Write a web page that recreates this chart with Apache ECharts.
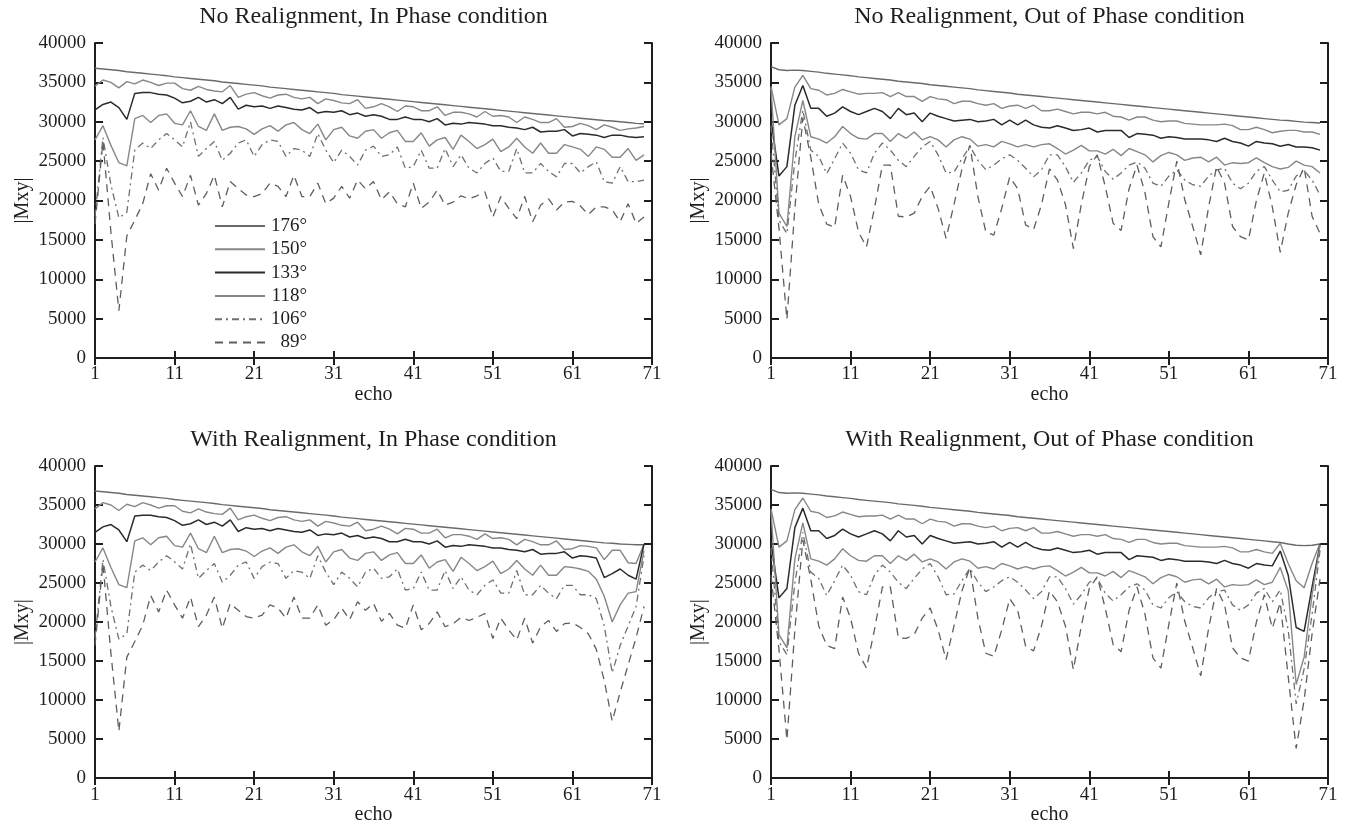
<!DOCTYPE html>
<html>
<head>
<meta charset="utf-8">
<script src="https://cdn.jsdelivr.net/npm/echarts@6/dist/echarts.min.js"></script>
<style>
html, body { margin: 0; padding: 0; background: #fff; }
#container { width: 1353px; height: 826px; }
</style>
</head>
<body>
<div id="container"></div>
<script>
/* |Mxy| per echo, four panels, six flip angles each */
const echoes = Array.from({ length: 70 }, (_, i) => i + 1);
const angleNames = ['176°', '150°', '133°', '118°', '106°', '89°'];
const xTicks = [1, 11, 21, 31, 41, 51, 61, 71];
const yTicks = [0, 5000, 10000, 15000, 20000, 25000, 30000, 35000, 40000];

// No Realignment, In Phase
const tl176 = [36800,36700,36600,36500,36350,36250,36150,36050,35950,35850,
  35700,35600,35500,35400,35300,35200,35050,34950,34850,34750,
  34650,34550,34400,34300,34200,34100,34000,33900,33800,33700,
  33600,33450,33350,33250,33150,33050,32950,32850,32750,32650,
  32550,32450,32350,32250,32150,32050,31950,31850,31750,31650,
  31550,31450,31350,31250,31150,31050,30950,30850,30750,30650,
  30550,30450,30350,30250,30150,30100,30000,29900,29800,29750];
const tl150 = [34500,35300,35000,34300,35100,34800,35300,35000,34600,34900,
  34900,34200,34000,34500,34100,33900,33800,34600,33100,33500,
  33700,33300,33000,33400,33500,33100,32900,33100,32300,32900,
  32700,32400,32300,32800,31700,31900,32300,31900,31300,32000,
  31900,31400,31400,31900,30800,31200,31200,31000,30600,31300,
  30700,30800,30600,29900,30600,30300,29900,29900,30400,29300,
  29400,29800,29500,29000,29600,29300,28900,29100,29200,29400];
const tl133 = [31500,32200,32500,31800,30300,33600,33700,33700,33500,33400,
  33000,32400,32600,33100,32500,32800,32300,33100,31600,32100,
  31900,32000,31700,32000,31800,31600,31500,31800,31100,31300,
  31200,31400,30900,31100,30700,30900,30700,30300,30300,30600,
  30300,30300,30000,30400,29600,29800,29700,29900,29800,29700,
  29500,29500,29300,29200,29000,29300,28700,28800,28800,29000,
  28200,28500,28400,28300,28000,28300,28300,28100,28000,28100];
const tl118 = [27700,29500,27000,24800,24400,30400,30800,29900,30800,31000,
  29800,29600,31400,29400,28900,31000,28900,29300,29400,29100,
  28400,29100,29500,28800,29600,29900,29000,28500,29700,27700,
  29000,29300,28200,27900,28800,29000,27900,28600,28900,27500,
  27500,28600,26900,27700,28000,26500,28300,27500,26600,27100,
  27800,26200,26800,27900,26800,26000,27300,26000,26000,27100,
  26800,26500,25600,26800,26500,25500,25500,26600,25100,25800];
const tl106 = [18000,28000,22000,17800,18500,26400,27300,26600,27700,28500,
  27700,26800,30000,25600,26600,27500,25100,26000,27300,27700,
  25600,27100,27700,27500,25600,26600,26400,25600,28500,26400,
  24800,26400,25600,24500,26400,26900,25600,25800,26800,24100,
  24300,26400,24100,24100,26600,24300,25800,24100,23500,24700,
  25400,23700,23700,26600,23500,23500,24700,23700,23000,24700,
  24700,23500,24300,24900,22400,22200,24300,22400,22400,22600];
const tl89 = [17000,27500,16000,6000,15500,17500,19600,23400,21300,24100,
  22200,20500,23200,19400,20900,23200,19200,22400,21500,20700,
  20500,20900,22200,21800,20500,23200,20500,20500,22200,19600,
  20300,21800,20300,22600,21500,22400,20100,21100,19600,19200,
  22200,19000,19800,21300,19400,19800,20600,20200,20600,21100,
  17900,20500,19000,17700,20500,17300,19400,20200,18800,19800,
  19900,19300,18200,19200,19200,18800,17300,19600,17100,17900];

// No Realignment, Out of Phase
const tr176 = [37000,36600,36500,36550,36500,36400,36300,36150,36050,35950,
  35850,35700,35600,35500,35400,35300,35150,35050,34950,34850,
  34700,34600,34500,34400,34300,34200,34050,33950,33850,33750,
  33650,33500,33400,33300,33200,33100,33000,32900,32800,32700,
  32600,32500,32400,32300,32200,32100,32000,31900,31800,31700,
  31600,31500,31400,31300,31200,31100,31000,30900,30800,30700,
  30600,30500,30400,30300,30200,30150,30050,29950,29900,29850];
const tr150 = [34500,29600,30400,34400,35900,34200,34000,33400,33600,34100,
  33800,33500,33600,33600,33700,33200,33700,33200,33200,32600,
  33200,32900,32800,32300,32600,32600,32300,32100,32300,31700,
  32000,32100,31700,32100,31400,31400,31600,31300,31000,31200,
  31200,31000,31200,30700,30600,30200,30600,30600,30200,30000,
  30100,30100,29800,29700,29600,29600,29600,29700,29500,29000,
  29000,29300,29000,28600,28800,28900,28900,28700,28700,28400];
const tr133 = [30300,23100,24300,32100,34600,31700,31700,30700,31100,31900,
  31300,30900,31300,31700,31300,30400,31700,30900,31100,30000,
  31100,30700,30400,30100,30200,30300,30000,30100,30300,29600,
  30200,29600,30200,29600,29300,29200,29500,29200,28900,29000,
  29200,28700,28900,28900,28900,28000,28500,28400,28300,27900,
  28100,28000,27800,27800,27800,27700,27500,27900,27500,27300,
  26900,27500,27300,27200,26900,27100,26800,26800,26700,26400];
const tr118 = [34300,18400,16700,28100,32700,28100,27800,27300,28100,29400,
  28500,27900,27800,28500,28500,27500,28500,27900,28700,27700,
  28100,27700,26800,27700,28100,27800,26900,27100,26800,27500,
  27200,26800,27100,26800,27100,27200,26600,25900,26400,27000,
  26300,26300,25900,26500,25700,26600,26200,25800,24900,25700,
  26100,25800,25100,25400,25500,24900,25500,24500,24800,24700,
  24800,25400,24800,24300,24000,24200,25000,24500,24300,23500];
const tr106 = [29500,17500,15800,25000,31500,26400,25600,23400,25300,27300,
  26000,23900,23500,26000,27300,26400,25100,24300,25600,26800,
  27500,25800,23500,23600,25300,26900,25100,23900,24500,25300,
  25800,25100,24100,23000,23900,25800,25800,24300,22300,23500,
  25100,25600,23700,22700,23500,24500,24900,24100,22200,21800,
  23100,23900,22600,22000,21800,23100,23900,24100,22200,21500,
  22200,23700,24300,22600,21100,21300,23100,23800,22600,20700];
const tr89 = [26000,16500,4900,19000,30500,25500,19500,17000,16600,23200,
  20500,16000,14100,19000,24500,24500,18000,17900,18400,20500,
  21800,19000,15200,19500,24000,27000,20500,16000,15600,19000,
  23000,21500,16900,16300,19500,24000,22600,19500,13900,19500,
  24300,25800,21800,17100,16200,21500,24500,21000,15400,14100,
  19700,25000,20100,16700,13100,19200,24300,22200,16700,15400,
  15000,20000,23500,19200,13400,18400,22000,24200,18000,15800];

// With Realignment, In Phase
const bl176 = [36800,36700,36600,36500,36350,36250,36150,36050,35950,35850,
  35700,35600,35500,35400,35300,35200,35050,34950,34850,34750,
  34650,34550,34400,34300,34200,34100,34000,33900,33800,33700,
  33600,33450,33350,33250,33150,33050,32950,32850,32750,32650,
  32550,32450,32350,32250,32150,32050,31950,31850,31750,31650,
  31550,31450,31350,31250,31150,31050,30950,30850,30750,30650,
  30550,30450,30350,30250,30150,30100,30000,29950,29900,29900];
const bl150 = [34500,35300,35000,34300,35100,34800,35300,35000,34600,34900,
  34900,34200,34000,34500,34100,33900,33800,34600,33100,33500,
  33700,33300,33000,33400,33500,33100,32900,33100,32300,32900,
  32700,32400,32300,32800,31700,31900,32300,31900,31300,32000,
  31900,31400,31400,31900,30800,31200,31200,31000,30600,31300,
  30700,30800,30600,29900,30600,30300,29900,29900,30400,29300,
  29400,29800,29700,29500,28000,29200,29200,27600,27500,30000];
const bl133 = [31500,32200,32500,31800,30300,33600,33700,33700,33500,33400,
  33000,32400,32600,33100,32500,32800,32300,33100,31600,32100,
  31900,32000,31700,32000,31800,31600,31500,31800,31100,31300,
  31200,31400,30900,31100,30700,30900,30700,30300,30300,30600,
  30300,30300,30000,30400,29600,29800,29700,29900,29800,29700,
  29500,29500,29300,29200,29000,29300,28700,28800,28800,29000,
  28200,28500,28400,28200,25700,26200,26800,26000,25500,30000];
const bl118 = [27700,29500,27000,24800,24400,30400,30800,29900,30800,31000,
  29800,29600,31400,29400,28900,31000,28900,29300,29400,29100,
  28400,29100,29500,28800,29600,29900,29000,28500,29700,27700,
  29000,29300,28200,27900,28800,29000,27900,28600,28900,27500,
  27500,28600,26900,27700,28000,26500,28300,27500,26600,27100,
  27800,26200,26800,27900,26800,26000,27300,26000,26000,27100,
  27000,26800,26500,25500,23300,20000,22200,23700,23900,29200];
const bl106 = [18000,28000,22000,17800,18500,26400,27300,26600,27700,28500,
  27700,26800,30000,25600,26600,27500,25100,26000,27300,27700,
  25600,27100,27700,27500,25600,26600,26400,25600,28500,26400,
  24800,26400,25600,24500,26400,26900,25600,25800,26800,24100,
  24300,26400,24100,24100,26600,24300,25800,24100,23500,24700,
  25400,23700,23700,26600,23500,23500,24700,23700,23000,24700,
  24700,23500,23500,23000,19500,13500,17000,19500,22000,28500];
const bl89 = [17000,27500,16000,6000,15500,17500,19600,23400,21300,24100,
  22200,20500,23200,19400,20900,23200,19200,22400,21500,20700,
  20500,20900,22200,21800,20500,23200,20500,20500,22200,19600,
  20300,21800,20300,22600,21500,22400,20100,21100,19600,19200,
  22200,19000,19800,21300,19400,19800,20600,20200,20600,21100,
  17900,20500,19000,17700,20500,17300,19400,20200,18800,19800,
  19900,19300,18500,16500,12500,7300,11000,14500,18000,22000];

// With Realignment, Out of Phase
const br176 = [37000,36600,36500,36550,36500,36400,36300,36150,36050,35950,
  35850,35700,35600,35500,35400,35300,35150,35050,34950,34850,
  34700,34600,34500,34400,34300,34200,34050,33950,33850,33750,
  33650,33500,33400,33300,33200,33100,33000,32900,32800,32700,
  32600,32500,32400,32300,32200,32100,32000,31900,31800,31700,
  31600,31500,31400,31300,31200,31100,31000,30900,30800,30700,
  30600,30500,30400,30300,30200,30000,29850,29800,29850,30000];
const br150 = [34500,29600,30400,34400,35900,34200,34000,33400,33600,34100,
  33800,33500,33600,33600,33700,33200,33700,33200,33200,32600,
  33200,32900,32800,32300,32600,32600,32300,32100,32300,31700,
  32000,32100,31700,32100,31400,31400,31600,31300,31000,31200,
  31200,31000,31200,30700,30600,30200,30600,30600,30200,30000,
  30100,30100,29800,29700,29600,29600,29600,29700,29500,29000,
  29000,29300,29000,28800,30100,27500,25300,24400,27500,30100];
const br133 = [30300,23100,24300,32100,34600,31700,31700,30700,31100,31900,
  31300,30900,31300,31700,31300,30400,31700,30900,31100,30000,
  31100,30700,30400,30100,30200,30300,30000,30100,30300,29600,
  30200,29600,30200,29600,29300,29200,29500,29200,28900,29000,
  29200,28700,28900,28900,28900,28000,28500,28400,28300,27900,
  28100,28000,27800,27800,27800,27700,27500,27900,27500,27300,
  26900,27500,27300,27200,29100,26000,19300,18800,24500,30000];
const br118 = [34300,18400,16700,28100,32700,28100,27800,27300,28100,29400,
  28500,27900,27800,28500,28500,27500,28500,27900,28700,27700,
  28100,27700,26800,27700,28100,27800,26900,27100,26800,27500,
  27200,26800,27100,26800,27100,27200,26600,25900,26400,27000,
  26300,26300,25900,26500,25700,26600,26200,25800,24900,25700,
  26100,25800,25100,25400,25500,24900,25500,24500,24800,24700,
  24800,25400,24800,25100,27000,24000,12000,15500,23500,29900];
const br106 = [29500,17500,15800,25000,31500,26400,25600,23400,25300,27300,
  26000,23900,23500,26000,27300,26400,25100,24300,25600,26800,
  27500,25800,23500,23600,25300,26900,25100,23900,24500,25300,
  25800,25100,24100,23000,23900,25800,25800,24300,22300,23500,
  25100,25600,23700,22700,23500,24500,24900,24100,22200,21800,
  23100,23900,22600,22000,21800,23100,23900,24100,22200,21500,
  22200,23700,24300,22600,24100,19000,9500,14000,21000,29200];
const br89 = [26000,16500,4900,19000,30500,25500,19500,17000,16600,23200,
  20500,16000,14100,19000,24500,24500,18000,17900,18400,20500,
  21800,19000,15200,19500,24000,27000,20500,16000,15600,19000,
  23000,21500,16900,16300,19500,24000,22600,19500,13900,19500,
  24300,25800,21800,17100,16200,21500,24500,21000,15400,14100,
  19700,25000,20100,16700,13100,19200,24300,22200,16700,15400,
  15000,20000,23500,19200,22500,13000,3800,10000,18500,25500];

const FONT = 'Liberation Serif';
const INK = '#1e1e1e';

// line look per angle (same order as angleNames)
const looks = [
  { color: '#6a6a6a', width: 1.4, type: 'solid' },
  { color: '#878787', width: 1.4, type: 'solid' },
  { color: '#2b2b2b', width: 1.5, type: 'solid' },
  { color: '#878787', width: 1.4, type: 'solid' },
  { color: '#707070', width: 1.3, type: [7, 4, 2, 4] },
  { color: '#5e5e5e', width: 1.3, type: [8, 6] }
];

const panels = [
  { title: 'No Realignment, In Phase condition', left: 95, top: 43, height: 315,
    values: [tl176, tl150, tl133, tl118, tl106, tl89] },
  { title: 'No Realignment, Out of Phase condition', left: 771, top: 43, height: 315,
    values: [tr176, tr150, tr133, tr118, tr106, tr89] },
  { title: 'With Realignment, In Phase condition', left: 95, top: 466, height: 316,
    values: [bl176, bl150, bl133, bl118, bl106, bl89] },
  { title: 'With Realignment, Out of Phase condition', left: 771, top: 466, height: 316,
    values: [br176, br150, br133, br118, br106, br89] }
];
const plotWidth = 557;

const grid = [], xAxis = [], yAxis = [], series = [], graphic = [];

panels.forEach(function (p, k) {
  grid.push({ left: p.left, top: p.top, width: plotWidth, height: p.height });

  const lineAx = { show: true, lineStyle: { color: INK, width: 2 } };
  const tickAx = { show: true, inside: true, length: 7, lineStyle: { color: INK, width: 2 } };

  // bottom + top x axes
  xAxis.push({
    type: 'value', gridIndex: k, position: 'bottom', min: 1, max: 71, interval: 10,
    axisLine: lineAx, axisTick: tickAx, splitLine: { show: false },
    axisLabel: { color: INK, fontFamily: FONT, fontSize: 19, margin: 7 },
    name: 'echo', nameLocation: 'middle', nameGap: 25,
    nameTextStyle: { color: INK, fontFamily: FONT, fontSize: 20 }
  });
  xAxis.push({
    type: 'value', gridIndex: k, position: 'top', min: 1, max: 71, interval: 10,
    axisLine: lineAx, axisTick: tickAx, axisLabel: { show: false }, splitLine: { show: false }
  });
  // left + right y axes
  yAxis.push({
    type: 'value', gridIndex: k, position: 'left', min: 0, max: 40000, interval: 5000,
    axisLine: lineAx, axisTick: Object.assign({}, tickAx, { length: 8 }), splitLine: { show: false },
    axisLabel: { color: INK, fontFamily: FONT, fontSize: 19, margin: 9, formatter: function (v) { return String(v); } },
    name: '|Mxy|', nameLocation: 'middle', nameGap: 62,
    nameTextStyle: { color: INK, fontFamily: FONT, fontSize: 20 }
  });
  yAxis.push({
    type: 'value', gridIndex: k, position: 'right', min: 0, max: 40000, interval: 5000,
    axisLine: lineAx, axisTick: Object.assign({}, tickAx, { length: 8 }),
    axisLabel: { show: false }, splitLine: { show: false }
  });

  p.values.forEach(function (vals, s) {
    const look = looks[s];
    series.push({
      type: 'line', name: angleNames[s],
      xAxisIndex: 2 * k, yAxisIndex: 2 * k,
      data: echoes.map(function (e, i) { return [e, vals[i]]; }),
      symbol: 'none', silent: true,
      lineStyle: { color: look.color, width: look.width, type: look.type },
      itemStyle: { color: look.color }
    });
  });

  graphic.push({
    type: 'text',
    x: p.left + plotWidth / 2,
    y: p.top - 38,
    style: {
      text: p.title, fill: INK,
      font: '24px "' + FONT + '"',
      align: 'center', textAlign: 'center',
      verticalAlign: 'top', textVerticalAlign: 'top'
    }
  });
});

const myChart = echarts.init(document.getElementById('container'));
const option = {
  animation: false,
  backgroundColor: '#fff',
  grid: grid,
  xAxis: xAxis,
  yAxis: yAxis,
  graphic: graphic,
  legend: {
    data: angleNames,
    orient: 'vertical',
    left: 214, top: 216, padding: 0,
    itemWidth: 50, itemHeight: 14, itemGap: 3.3,
    selectedMode: false,
    itemStyle: { opacity: 0 },
    formatter: function (name) { return '{a|' + name + '}'; },
    textStyle: {
      color: INK, fontFamily: FONT, fontSize: 19, lineHeight: 20,
      rich: { a: { width: 37, align: 'right', fontFamily: FONT, fontSize: 19, color: INK } }
    }
  },
  series: series
};
myChart.setOption(option);
</script>
</body>
</html>
